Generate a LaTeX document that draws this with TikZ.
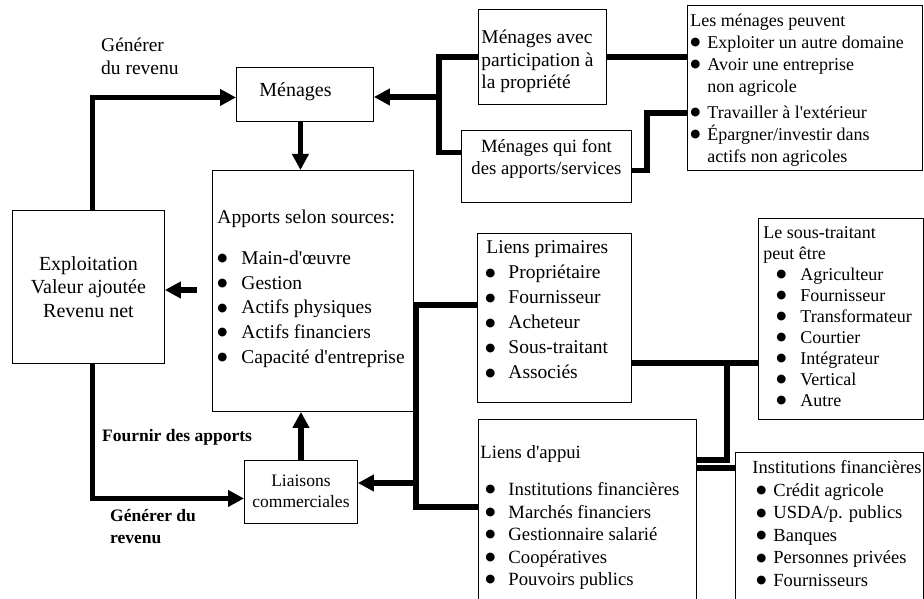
\documentclass[tikz,border=0pt]{standalone}
\usepackage{fontspec}
\setmainfont{Liberation Serif}
\newfontfamily\pucefont{DejaVu Sans}
\usetikzlibrary{arrows.meta}
\newcommand\boite[5][0pt]{%
  \parbox[t][#3][t]{#2}{\leftskip=#1\relax\vspace*{#4}\strut#5}%
}
\newcommand\puce[1]{\hspace*{\retrait}%
  \makebox[\largpuce][l]{\raisebox{2.6pt}{\pucefont\fontsize{11.5}{11.5}\selectfont ●}}#1}
\newcommand\suite[1]{\hspace*{\retrait}\hspace*{\largpuce}#1}
\newcommand\apos{\textquotesingle}
\def\retrait{0pt}
\def\largpuce{20pt}
\tikzset{%
  cadre/.style={draw,line width=0.9pt,inner sep=0pt,anchor=north west},
  trait/.style={line width=5.5pt},
  fleche/.style={trait,-{Triangle[length=16pt,width=16pt]}},
  legende/.style={inner sep=0pt,anchor=north west,align=left}
}
\begin{document}
\begin{tikzpicture}[x=1pt,y=-1pt]

%% page

\useasboundingbox (0,0) rectangle (924,599);
\clip (0,0) rectangle (924,599);

%% boxes

\node[cadre,font=\fontsize{20}{24}\selectfont] (menages) at (236,67)
  {\boite[23pt]{137pt}{54pt}{12.7pt}{Ménages}};
\node[cadre,font=\fontsize{20}{23.5}\selectfont] (exploitation) at (12,210)
  {\boite{152pt}{153pt}{43.5pt}{\centering Exploitation\\Valeur ajoutée\\Revenu net}};
\node[cadre,font=\fontsize{19.5}{24.75}\selectfont] (apports) at (212,170)
  {\boite[5pt]{201pt}{241pt}{35.8pt}{\def\largpuce{24pt}Apports selon sources:\\[16pt]
   \puce{Main-d\apos œuvre}\\ \puce{Gestion}\\ \puce{Actifs physiques}\\
   \puce{Actifs financiers}\\ \puce{Capacité d\apos entreprise}}};
\node[cadre,font=\fontsize{17.5}{21}\selectfont] (liaisons) at (244,460)
  {\boite{113pt}{63pt}{11.3pt}{\centering Liaisons\\commerciales}};
\node[cadre,font=\fontsize{19.5}{22.5}\selectfont] (menavec) at (478,9)
  {\boite[3pt]{128pt}{95pt}{18.5pt}{Ménages avec\\participation à\\la propriété}};
\node[cadre,font=\fontsize{18.7}{22}\selectfont] (menqui) at (461,130)
  {\boite{170pt}{72pt}{6.3pt}{\centering Ménages qui font\\des apports/services}};
\node[cadre,font=\fontsize{18}{22}\selectfont] (peuvent) at (687,5)
  {\boite[3pt]{235pt}{165pt}{5.6pt}{\def\largpuce{17pt}Les ménages peuvent\\
   \puce{Exploiter un autre domaine}\\ \puce{Avoir une entreprise}\\
   \suite{non agricole}\\[4pt] \puce{Travailler à l\apos extérieur}\\
   \puce{Épargner/investir dans}\\ \suite{actifs non agricoles}}};
\node[cadre,font=\fontsize{19.5}{25}\selectfont] (primaires) at (477,233)
  {\boite[9pt]{154pt}{169pt}{2.8pt}{\def\retrait{-1pt}\def\largpuce{23pt}Liens primaires\\
   \puce{Propriétaire}\\ \puce{Fournisseur}\\ \puce{Acheteur}\\
   \puce{Sous-traitant}\\ \puce{Associés}}};
\node[cadre,font=\fontsize{18}{21}\selectfont] (soustraitant) at (758,218)
  {\boite[5pt]{165pt}{201pt}{5.3pt}{\def\retrait{13pt}\def\largpuce{24pt}%
   Le sous-traitant\\peut être\\ \puce{Agriculteur}\\ \puce{Fournisseur}\\
   \puce{Transformateur}\\ \puce{Courtier}\\ \puce{Intégrateur}\\
   \puce{Vertical}\\ \puce{Autre}}};
\node[cadre,font=\fontsize{18.7}{22.5}\selectfont] (appui) at (478,419)
  {\boite[2pt]{218pt}{195pt}{23.6pt}{\def\retrait{5pt}\def\largpuce{23pt}%
   Liens d\apos appui\\[14.2pt] \puce{Institutions financières}\\
   \puce{Marchés financiers}\\ \puce{Gestionnaire salarié}\\
   \puce{Coopératives}\\ \puce{Pouvoirs publics}}};
\node[cadre,font=\fontsize{18.5}{22.5}\selectfont] (institutions) at (735,452)
  {\boite[17pt]{188pt}{160pt}{5.6pt}{\def\retrait{4pt}\def\largpuce{17pt}%
   Institutions financières\\ \puce{Crédit agricole}\\ \puce{USDA/p. publics}\\
   \puce{Banques}\\ \puce{Personnes privées}\\ \puce{Fournisseurs}}};

%% labels

\node[legende,font=\fontsize{19.5}{22.5}\selectfont] (generer) at (101,36)
  {\parbox[t]{100pt}{\strut Générer\\du revenu}};
\node[legende,font=\bfseries\fontsize{17.5}{21}\selectfont] (fournir) at (102,427)
  {\parbox[t]{170pt}{\strut Fournir des apports}};
\node[legende,font=\bfseries\fontsize{17.5}{21.6}\selectfont] (genererbas) at (110,506.6)
  {\parbox[t]{100pt}{\strut Générer du\\revenu}};

%% left loop

\draw[fleche] ([xshift=4pt]exploitation.north) |- ([yshift=-3pt]menages.west);
\draw[fleche] ([xshift=4pt]exploitation.south) |- ([yshift=-6.5pt]liaisons.west);
\draw[fleche] ([xshift=-4.5pt]menages.south) -- ([xshift=-4.5pt]menages.south |- apports.north);
\draw[fleche] (liaisons.north) -- (liaisons.north |- apports.south);
\coordinate (depart) at (197,290);
\draw[fleche] (depart) -- (depart -| exploitation.east);

%% households

\coordinate (jonctionM) at (439,97);
\draw[trait] (menavec.west) -| ([yshift=14pt]menqui.west -| jonctionM)
  -- ([yshift=14pt]menqui.west);
\draw[fleche] (jonctionM) -- (jonctionM -| menages.east);
\draw[trait] (menavec.east) -- (menavec.east -| peuvent.west);
\coordinate (coude) at (647,113);
\draw[trait] ([yshift=-4pt]menqui.east) -| (coude) -- (coude -| peuvent.west);

%% links

\coordinate (jonctionA) at (416,305);
\coordinate (jonctionB) at (416,507);
\draw[trait] (jonctionA -| primaires.west) -- (jonctionA) -- (jonctionB)
  -- (jonctionB -| appui.west);
\coordinate (jonctionL) at (416,483);
\draw[fleche] (jonctionL) -- (jonctionL -| liaisons.east);
\coordinate (jonctionC) at (727,363);
\coordinate (jonctionD) at (727,460);
\draw[trait] (jonctionC -| primaires.east) -- (jonctionC -| soustraitant.west);
\draw[trait] (jonctionC) -- (jonctionD) -- (jonctionD -| appui.east);
\coordinate (jonctionE) at (700,468);
\draw[trait] (jonctionE -| appui.east) -- (jonctionE -| institutions.west);
\end{tikzpicture}
\end{document}
